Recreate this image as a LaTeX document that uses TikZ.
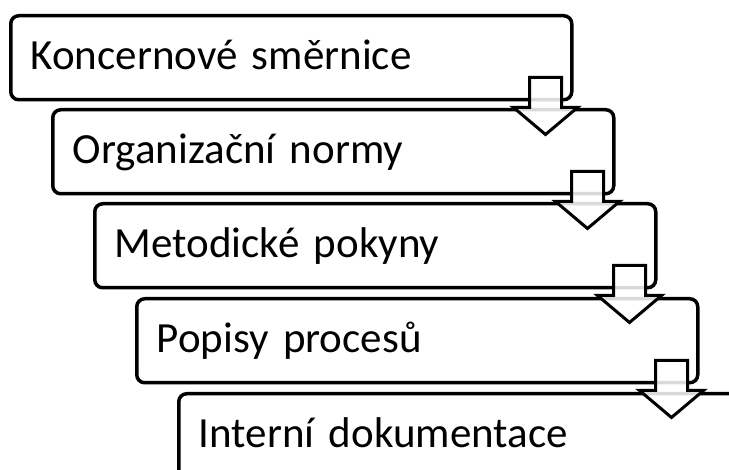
\documentclass[tikz,border=0pt]{standalone}
\usepackage{fontspec}
\setmainfont{Carlito}
\usetikzlibrary{calc}

\begin{document}
\begin{tikzpicture}[x=1pt, y=-1pt,
  kasten/.style={draw=black, fill=white, line width=3.5pt, rounded corners=8pt, anchor=north west,
    minimum width=561pt, minimum height=84pt, inner xsep=20pt, text width=521pt, align=left,
    text height=32pt, text depth=8pt, font=\fontsize{43}{50}\selectfont},
  pfeil/.style={draw=black, line width=3pt, fill=white, fill opacity=0.85, line join=miter}]
\useasboundingbox (0,0) rectangle (729,470);
\clip (0,0) rectangle (729,470);

% kaesten
\node[kasten] (A) at (9,14) {Koncernové směrnice};
\node[kasten] (B) at (51,108) {Organizační normy};
\node[kasten] (C) at (93,202) {Metodické pokyny};
\node[kasten] (D) at (135,297) {Popisy procesů};
\node[kasten] (E) at (177,392) {Interní dokumentace};

% pfeile
\draw[pfeil] ($(A.south east)+(-44,-24)$) -- ++(32,0) -- ++(0,30) -- ++(16,0) -- ++(-32,27) -- ++(-32,-27) -- ++(16,0) -- cycle;
\draw[pfeil] ($(B.south east)+(-44,-24)$) -- ++(32,0) -- ++(0,30) -- ++(16,0) -- ++(-32,27) -- ++(-32,-27) -- ++(16,0) -- cycle;
\draw[pfeil] ($(C.south east)+(-44,-24)$) -- ++(32,0) -- ++(0,30) -- ++(16,0) -- ++(-32,27) -- ++(-32,-27) -- ++(16,0) -- cycle;
\draw[pfeil] ($(D.south east)+(-44,-24)$) -- ++(32,0) -- ++(0,30) -- ++(16,0) -- ++(-32,27) -- ++(-32,-27) -- ++(16,0) -- cycle;

\end{tikzpicture}
\end{document}
